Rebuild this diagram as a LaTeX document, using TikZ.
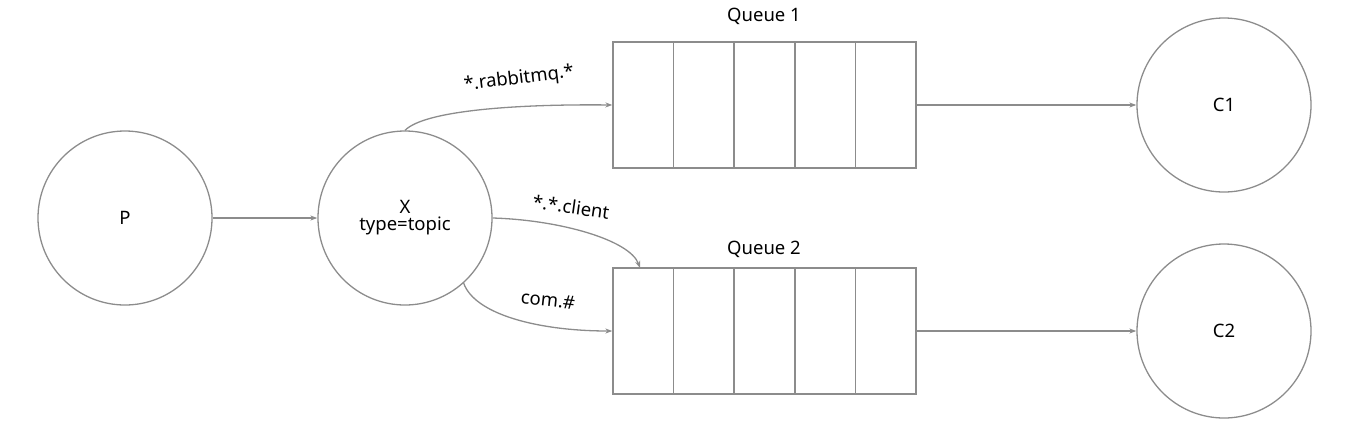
\documentclass[tikz,border=0pt]{standalone}
\usepackage{fontspec}
\setmainfont{Noto Sans}
\usetikzlibrary{arrows.meta,calc}

\begin{document}
\begin{tikzpicture}[x=1pt,y=-1pt,
	line/.style={draw=black!45,line width=1.3pt},
	arr/.style={line,-{Stealth[length=7pt,width=5pt]}},
	ball/.style={circle,line,minimum size=174pt,inner sep=0pt,font=\fontsize{18.5}{21}\selectfont,align=center},
	queue/.style={rectangle,line,minimum width=303pt,minimum height=126pt,inner sep=0pt},
	lbl/.style={font=\fontsize{18.5}{21}\selectfont,inner sep=0pt}]
	\useasboundingbox (0,0) rectangle (1353,424);
	\node[ball] (p) at (125,218) {P};
	\node[ball] (x) at (405,218) {X\\[-4pt]type=topic};
	\node[queue] (q1) at (764.5,105) {};
	\node[queue] (q2) at (764.5,331) {};
	\node[ball] (c1) at (1224,105) {C1};
	\node[ball] (c2) at (1224,331) {C2};
	\foreach \q in {q1,q2}
	{
		\foreach \i in {1,...,4}
		{
			\draw[line] ($(\q.north west)!\i/5!(\q.north east)$) -- ($(\q.south west)!\i/5!(\q.south east)$);
		}
	}
	\node[lbl] (t1) at (764,16) {Queue 1};
	\node[lbl] (t2) at (764,249) {Queue 2};
	\draw[arr] (p) -- (x);
	\draw[arr] (q1) -- (c1);
	\draw[arr] (q2) -- (c2);
	\coordinate (q2in) at (640,268);
	\draw[arr] (x.north) .. controls (425,110) and (520,104) .. (q1.west);
	\draw[arr] (x.east) .. controls (560,220) and (630,240) .. (q2in);
	\draw[arr] (x.-48) .. controls (475,315) and (540,331) .. (q2.west);
	\node[lbl,rotate=7] (k1) at (519,79) {*.rabbitmq.*};
	\node[lbl,rotate=-8] (k2) at (571,207) {*.*.client};
	\node[lbl,rotate=-6] (k3) at (548,300) {com.\#};
\end{tikzpicture}
\end{document}
